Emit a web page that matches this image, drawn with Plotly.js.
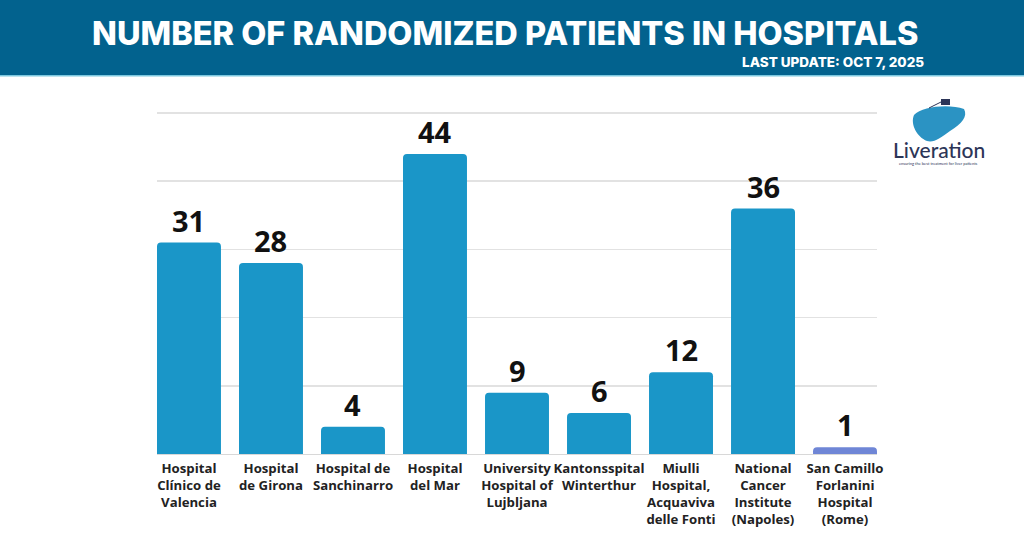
<!DOCTYPE html>
<html>
<head>
<meta charset="utf-8">
<script src="https://cdn.plot.ly/plotly-3.0.1.min.js"></script>
<style>html,body{margin:0;padding:0;background:#fff;}#chart{width:1024px;height:536px;}</style>
</head>
<body>
<div id="chart"></div>
<script>
const hospitals = [
  "Hospital<br>Clínico de<br>Valencia",
  "Hospital<br>de Girona",
  "Hospital de<br>Sanchinarro",
  "Hospital<br>del Mar",
  "University<br>Hospital of<br>Lujbljana",
  "Kantonsspital<br>Winterthur",
  "Miulli<br>Hospital,<br>Acquaviva<br>delle Fonti",
  "National<br>Cancer<br>Institute<br>(Napoles)",
  "San Camillo<br>Forlanini<br>Hospital<br>(Rome)"
];
const patients = [31, 28, 4, 44, 9, 6, 12, 36, 1];
const barColors = ["#1a96c8","#1a96c8","#1a96c8","#1a96c8","#1a96c8","#1a96c8","#1a96c8","#1a96c8","#6f86d6"];
const yTicks = [0, 10, 20, 30, 40, 50];

const idx = hospitals.map((_, i) => i);

const trace = {
  type: "bar",
  x: idx,
  y: patients,
  marker: {color: barColors, cornerradius: 4},
  width: 0.78,
  hoverinfo: "none"
};

const valueAnnotations = patients.map((v, i) => ({
  x: i, y: v, xref: "x", yref: "y",
  text: String(v), showarrow: false,
  yanchor: "bottom", yshift: 1,
  font: {family: "Open Sans", size: 29, color: "#111", weight: 700}
}));

const pH = 343, pW = 720, ml = 157;
function py(pixY) { return (536 - 82 - pixY) / pH; }
function px(pixX) { return (pixX - ml) / pW; }

const layout = {
  width: 1024, height: 536,
  margin: {l: 157, r: 147, t: 111, b: 82},
  paper_bgcolor: "#ffffff",
  plot_bgcolor: "#ffffff",
  showlegend: false,
  xaxis: {
    range: [-0.39, 8.39],
    tickmode: "array",
    tickvals: idx,
    ticktext: hospitals,
    tickangle: 0,
    ticks: "",
    ticklabelstandoff: 2,
    showgrid: false,
    zeroline: false,
    showline: true,
    linecolor: "#d8d8d8",
    linewidth: 1,
    tickfont: {family: "Open Sans", size: 13.2, color: "#222", weight: 700},
    fixedrange: true
  },
  yaxis: {
    range: [0, 50.3],
    tickvals: yTicks,
    showticklabels: false,
    showgrid: true,
    gridcolor: "#e2e2e2",
    gridwidth: 1.5,
    zeroline: false,
    fixedrange: true
  },
  annotations: valueAnnotations.concat([
    {text: "NUMBER OF RANDOMIZED PATIENTS IN HOSPITALS", xref: "paper", yref: "paper",
     x: px(505), y: py(33), xanchor: "center", yanchor: "middle",
     showarrow: false, font: {family: "Inter", size: 32.5, color: "#ffffff", weight: 800}},
    {text: "LAST UPDATE: OCT 7, 2025", xref: "paper", yref: "paper",
     x: px(926), y: py(62.5), xanchor: "right", yanchor: "middle",
     showarrow: false, font: {family: "Inter", size: 13.5, color: "#ffffff", weight: 800}},
    {text: "Liveration", xref: "paper", yref: "paper",
     x: px(939), y: py(149), xanchor: "center", yanchor: "middle",
     showarrow: false, font: {family: "Lato", size: 21, color: "#2c3557", weight: 500}},
    {text: "ensuring the best treatment for liver patients", xref: "paper", yref: "paper",
     x: px(939), y: py(163), xanchor: "center", yanchor: "middle",
     showarrow: false, font: {family: "Lato", size: 4, color: "#2c3557"}}
  ]),
  shapes: [
    {type: "rect", xref: "paper", yref: "paper", x0: px(0), x1: px(1024), y0: py(75), y1: py(0),
     fillcolor: "#02628e", line: {width: 0}, layer: "below"},
    {type: "rect", xref: "paper", yref: "paper", x0: px(0), x1: px(1024), y0: py(76.5), y1: py(75),
     fillcolor: "#7cc8df", line: {width: 0}, layer: "below"},
    {type: "path", xref: "paper", yref: "paper", layer: "above",
     path: "M " + px(914) + " " + py(115) +
           " C " + px(922) + " " + py(106) + " " + px(950) + " " + py(104) + " " + px(964) + " " + py(109) +
           " C " + px(968) + " " + py(116) + " " + px(962) + " " + py(124) + " " + px(950) + " " + py(131) +
           " C " + px(940) + " " + py(138) + " " + px(934) + " " + py(143) + " " + px(927) + " " + py(141) +
           " C " + px(917) + " " + py(137) + " " + px(910) + " " + py(124) + " " + px(914) + " " + py(115) + " Z",
     fillcolor: "#2b93c3", line: {width: 0}},
    {type: "rect", xref: "paper", yref: "paper", x0: px(941), x1: px(950), y0: py(105), y1: py(99),
     fillcolor: "#2c3557", line: {width: 0}},
    {type: "line", xref: "paper", yref: "paper", x0: px(929), x1: px(941), y0: py(108), y1: py(102),
     line: {color: "#2c3557", width: 1}}
  ]
};

Plotly.newPlot("chart", [trace], layout, {displayModeBar: false, staticPlot: true});
</script>
</body>
</html>
